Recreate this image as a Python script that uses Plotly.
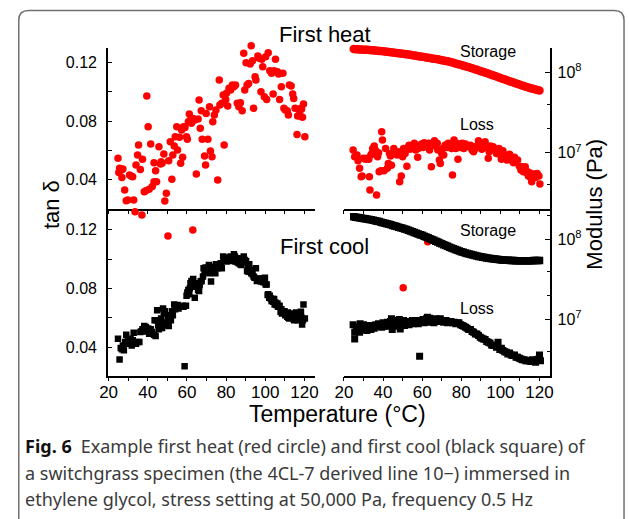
import plotly.graph_objects as go

W, H = 629, 519

# ---------------- data ----------------
# First heat, tan delta (red circles)
heat_tan_T = [24.8, 25.6, 25.2, 26.5, 27.3, 26.8, 28.2, 29.0, 29.8, 30.7, 31.5, 32.3, 32.8, 33.5, 34.0, 34.8,
              35.3, 36.2, 37.0, 37.3, 38.2, 39.0, 39.5, 40.2, 40.7, 41.5, 42.3, 43.2, 44.0, 44.5, 43.2, 45.7,
              46.5, 46.8, 47.3, 48.2, 48.7, 49.5, 50.7, 51.5, 52.3, 52.8, 53.5, 54.0, 54.8, 55.2, 56.2, 56.8,
              57.3, 57.8, 58.2, 59.0, 59.8, 60.2, 60.7, 61.2, 61.8, 62.3, 63.2, 64.0, 64.8, 65.7, 66.2, 66.8,
              67.3, 67.8, 69.0, 69.5, 69.8, 70.7, 71.5, 72.0, 72.8, 73.2, 74.0, 74.8, 75.7, 76.5, 76.8, 77.8,
              78.5, 79.0, 79.8, 80.2, 80.8, 81.5, 82.3, 83.2, 84.0, 84.8, 85.7, 86.5, 87.3, 88.2, 89.0, 89.5,
              90.2, 90.7, 91.5, 92.3, 92.8, 93.5, 94.0, 94.8, 95.2, 96.2, 96.8, 97.8, 98.2, 98.7, 99.5, 100.2,
              100.7, 101.5, 102.3, 103.2, 104.0, 104.5, 105.2, 106.2, 106.8, 107.3, 108.2, 109.0, 109.5, 110.2,
              111.2, 111.8, 112.3, 113.2, 114.0, 114.5, 115.2, 116.2, 116.5, 117.3, 117.8, 118.5, 119.0, 119.5,
              120.2, 118.2, 50.3, 63.0]
heat_tan = [0.0544, 0.0475, 0.0446, 0.0464, 0.0471, 0.0412, 0.0327, 0.0253, 0.0258, 0.0430, 0.0423, 0.0418,
            0.0258, 0.0178, 0.0498, 0.0566, 0.0635, 0.0468, 0.0155, 0.0537, 0.0315, 0.0322, 0.0971, 0.0761,
            0.0331, 0.0642, 0.0350, 0.0384, 0.0459, 0.0384, 0.0514, 0.0623, 0.0505, 0.0521, 0.0510, 0.0573,
            0.0251, 0.0304, 0.0528, 0.0658, 0.0400, 0.0566, 0.0628, 0.0692, 0.0761, 0.0601, 0.0688, 0.0510,
            0.0738, 0.0551, 0.0761, 0.0756, 0.0692, 0.0674, 0.0795, 0.0848, 0.0807, 0.0784, 0.0818, 0.0807,
            0.0437, 0.0814, 0.0944, 0.0750, 0.0871, 0.0674, 0.0560, 0.0498, 0.0852, 0.0674, 0.0898, 0.0594,
            0.0555, 0.0795, 0.0841, 0.0875, 0.0395, 0.1081, 0.0910, 0.0921, 0.0978, 0.0635, 0.0948, 0.0990,
            0.0903, 0.1024, 0.1013, 0.1047, 0.1035, 0.1047, 0.0921, 0.0898, 0.0926, 0.0871, 0.1264, 0.1013,
            0.1200, 0.1047, 0.1058, 0.1191, 0.1317, 0.1214, 0.0887, 0.1104, 0.1081, 0.1246, 0.1230, 0.1001,
            0.1223, 0.1172, 0.0967, 0.1241, 0.0948, 0.1269, 0.1145, 0.1127, 0.0985, 0.1145, 0.1223, 0.1138,
            0.1122, 0.0948, 0.1035, 0.1127, 0.0887, 0.0875, 0.0871, 0.0841, 0.1047, 0.1040, 0.0985, 0.0955,
            0.0887, 0.0708, 0.0834, 0.0875, 0.0834, 0.0880, 0.0825, 0.0916, 0.0692, 0.0887, 0.0011, 0.0052]

# First cool, tan delta (black squares)
cool_tan_T = [24.8, 25.6, 26.2, 26.8, 27.3, 27.8, 28.5, 29.0, 29.8, 30.2, 31.2, 31.8, 32.3, 32.8, 33.5, 34.0,
              34.8, 35.7, 36.2, 36.8, 37.3, 38.2, 38.5, 39.0, 39.8, 40.2, 40.7, 41.5, 42.3, 43.2, 43.5, 44.0,
              44.5, 44.8, 45.3, 45.7, 46.5, 46.8, 47.3, 47.8, 48.2, 48.7, 49.0, 49.5, 50.2, 50.7, 51.5, 51.8,
              52.3, 52.8, 53.5, 54.0, 54.5, 55.2, 55.7, 56.2, 56.8, 57.8, 58.2, 58.8, 59.5, 59.8, 60.2, 60.7,
              61.2, 61.5, 61.8, 62.3, 63.2, 63.7, 64.0, 64.5, 65.2, 65.7, 66.2, 66.5, 67.0, 67.5, 68.2, 68.5,
              69.0, 69.5, 70.2, 70.7, 71.2, 71.5, 71.8, 72.3, 72.8, 73.5, 74.0, 74.5, 74.8, 75.2, 75.7, 76.2,
              76.5, 77.3, 77.8, 78.5, 79.0, 79.5, 80.2, 80.7, 81.2, 81.8, 82.3, 82.8, 83.5, 84.0, 84.5, 84.8,
              85.3, 85.8, 86.5, 86.8, 87.3, 87.8, 88.5, 89.0, 89.5, 90.2, 90.7, 91.2, 91.5, 91.8, 92.3, 92.8,
              93.5, 94.0, 94.5, 95.2, 95.7, 96.2, 96.8, 97.3, 97.8, 98.5, 99.0, 99.5, 99.8, 100.2, 100.7, 101.2,
              101.5, 102.0, 102.3, 102.8, 103.2, 103.7, 104.0, 104.5, 104.8, 105.2, 105.7, 106.2, 106.5, 107.3,
              107.8, 108.2, 108.5, 109.0, 109.5, 109.8, 110.2, 110.7, 111.2, 111.5, 111.8, 112.3, 112.8, 113.2,
              114.0, 114.5, 114.8, 115.3, 115.7, 116.2, 116.5, 116.8, 117.3, 117.8, 118.2, 118.5, 118.8, 119.2,
              119.5, 120.2]
cool_tan = [0.0457, 0.0315, 0.0393, 0.0384, 0.0411, 0.0377, 0.0434, 0.0484, 0.0446, 0.0423, 0.0457, 0.0411,
            0.0446, 0.0498, 0.0430, 0.0423, 0.0434, 0.0434, 0.0503, 0.0507, 0.0521, 0.0544, 0.0507, 0.0537,
            0.0507, 0.0526, 0.0491, 0.0521, 0.0503, 0.0484, 0.0583, 0.0475, 0.0583, 0.0651, 0.0549, 0.0521,
            0.0560, 0.0594, 0.0530, 0.0663, 0.0628, 0.0644, 0.0549, 0.0567, 0.0606, 0.0544, 0.0617, 0.0583,
            0.0644, 0.0617, 0.0690, 0.0658, 0.0681, 0.0686, 0.0663, 0.0674, 0.0674, 0.0681, 0.0674, 0.0269,
            0.0681, 0.0750, 0.0772, 0.0788, 0.0759, 0.0800, 0.0834, 0.0850, 0.0864, 0.0827, 0.0736, 0.0811,
            0.0834, 0.0788, 0.0782, 0.0823, 0.0846, 0.0850, 0.0880, 0.0937, 0.0914, 0.0942, 0.0932, 0.0914,
            0.0960, 0.0903, 0.0926, 0.0846, 0.0948, 0.0914, 0.0937, 0.0903, 0.0964, 0.0942, 0.0937, 0.0948,
            0.0964, 0.0971, 0.0937, 0.1017, 0.0994, 0.1010, 0.0983, 0.1001, 0.1006, 0.0994, 0.1017, 0.0987,
            0.1010, 0.1033, 0.1017, 0.0983, 0.1006, 0.0978, 0.0971, 0.1006, 0.0964, 0.0960, 0.0978, 0.1017,
            0.0994, 0.0987, 0.0919, 0.0948, 0.0914, 0.0964, 0.0926, 0.0903, 0.0896, 0.0880, 0.0873, 0.0937,
            0.0850, 0.0864, 0.0868, 0.0857, 0.0846, 0.0868, 0.0841, 0.0857, 0.0873, 0.0827, 0.0827, 0.0754,
            0.0759, 0.0736, 0.0750, 0.0731, 0.0713, 0.0727, 0.0708, 0.0727, 0.0690, 0.0704, 0.0686, 0.0697,
            0.0674, 0.0681, 0.0640, 0.0658, 0.0628, 0.0644, 0.0635, 0.0644, 0.0617, 0.0622, 0.0606, 0.0635,
            0.0599, 0.0594, 0.0628, 0.0606, 0.0612, 0.0590, 0.0583, 0.0606, 0.0635, 0.0617, 0.0583, 0.0606,
            0.0594, 0.0622, 0.0640, 0.0599, 0.0553, 0.0583, 0.0690, 0.0594]

# Storage modulus (MPa), sampled every degree from 25 to 120 degC
storage_T = [25, 26, 27, 28, 29, 30, 31, 32, 33, 34, 35, 36, 37, 38, 39, 40, 41, 42, 43, 44, 45, 46, 47, 48,
             49, 50, 51, 52, 53, 54, 55, 56, 57, 58, 59, 60, 61, 62, 63, 64, 65, 66, 67, 68, 69, 70, 71, 72,
             73, 74, 75, 76, 77, 78, 79, 80, 81, 82, 83, 84, 85, 86, 87, 88, 89, 90, 91, 92, 93, 94, 95, 96,
             97, 98, 99, 100, 101, 102, 103, 104, 105, 106, 107, 108, 109, 110, 111, 112, 113, 114, 115, 116,
             117, 118, 119, 120]
heat_storage = [195.0, 194.1, 193.6, 192.8, 192.3, 191.4, 190.5, 190.1, 189.2, 188.4, 187.5, 186.6, 185.8,
                184.5, 183.7, 182.4, 181.6, 180.3, 179.1, 177.8, 176.6, 175.4, 174.2, 173.0, 171.8, 170.6,
                169.4, 167.9, 166.3, 164.8, 163.3, 161.8, 160.3, 158.9, 157.4, 156.0, 154.5, 153.1, 151.7,
                150.3, 148.9, 147.6, 146.2, 144.9, 143.2, 141.6, 140.0, 138.4, 136.8, 134.9, 133.0, 131.2,
                129.1, 127.1, 125.0, 123.0, 121.1, 119.1, 117.2, 115.3, 113.2, 111.2, 109.1, 107.2, 105.2,
                103.3, 101.4, 99.5, 97.7, 95.9, 94.0, 92.0, 90.4, 88.5, 86.7, 85.1, 83.4, 81.8, 80.2, 78.7,
                77.1, 75.7, 74.1, 72.8, 71.3, 70.0, 68.7, 67.5, 66.2, 65.0, 64.0, 63.0, 61.9, 61.1, 60.3, 59.4]
cool_storage = [189.7, 187.9, 186.2, 184.5, 182.8, 181.1, 179.5, 177.8, 176.2, 174.2, 172.6, 170.2, 167.9,
                165.6, 162.9, 160.7, 158.1, 156.0, 153.5, 151.0, 148.6, 146.2, 143.9, 141.3, 139.0, 136.8,
                134.3, 131.8, 129.1, 126.5, 123.9, 121.3, 118.9, 116.4, 114.0, 111.7, 109.1, 106.7, 104.0,
                101.6, 99.3, 96.8, 94.6, 92.3, 89.9, 87.7, 85.5, 83.4, 81.5, 79.4, 77.6, 75.9, 74.3, 72.8, 71.3,
                70.0, 68.7, 67.5, 66.4, 65.3, 64.4, 63.5, 62.7, 61.8, 61.1, 60.4, 59.7, 59.0, 58.5, 57.9, 57.4,
                56.9, 56.5, 56.1, 55.7, 55.3, 55.1, 54.8, 54.6, 54.5, 54.3, 54.2, 54.1, 54.0, 54.0, 53.8, 53.8,
                53.8, 53.8, 53.8, 54.0, 54.0, 54.1, 54.1, 54.2, 54.3]

# Loss modulus (MPa)
heat_loss_T = [24.7, 25.5, 26.7, 27.2, 28.0, 28.8, 29.3, 30.0, 31.0, 31.7, 32.7, 33.0, 33.3, 33.8, 34.3, 34.7,
               35.5, 36.0, 36.7, 37.2, 37.7, 38.0, 38.8, 39.3, 39.7, 40.5, 41.3, 42.2, 42.7, 43.3, 43.8, 44.3,
               45.0, 45.5, 46.3, 47.2, 48.0, 48.5, 49.3, 50.0, 50.5, 51.3, 52.2, 52.7, 53.3, 53.8, 54.7, 55.5,
               56.0, 56.7, 57.7, 58.0, 58.8, 59.7, 60.5, 61.0, 61.7, 62.7, 63.3, 63.8, 64.7, 65.5, 66.3, 66.8,
               67.7, 68.0, 68.8, 69.3, 70.0, 70.5, 71.0, 71.7, 72.7, 73.3, 74.3, 75.0, 75.5, 76.3, 76.7, 77.2,
               77.7, 78.3, 78.8, 79.7, 80.5, 81.3, 82.2, 83.0, 83.8, 84.7, 85.5, 86.3, 87.2, 88.0, 88.8, 89.3,
               90.0, 90.5, 91.3, 92.2, 93.0, 93.8, 94.3, 95.0, 95.5, 96.3, 97.2, 98.0, 98.8, 99.3, 100.0, 100.5,
               101.3, 102.2, 102.7, 103.3, 103.8, 104.7, 105.5, 106.0, 106.7, 107.2, 108.0, 108.8, 109.7, 110.5,
               111.0, 111.7, 112.7, 113.3, 113.8, 114.3, 115.0, 115.5, 116.0, 116.7, 117.2, 118.0, 118.8, 119.7,
               120.2, 50.3, 62.8]
heat_loss = [10.8, 8.9, 9.35, 7.94, 6.4, 5.02, 5.13, 8.5, 8.26, 8.5, 8.26, 5.02, 3.43, 9.35, 9.8, 11.3, 12.1,
             10.8, 2.97, 8.9, 10.0, 5.8, 5.97, 18.2, 14.4, 5.97, 11.3, 6.4, 7.36, 9.8, 9.1, 7.0, 9.8, 11.3, 10.0,
             9.35, 10.3, 4.36, 5.13, 8.9, 11.3, 9.8, 6.8, 11.6, 12.4, 11.0, 12.1, 11.6, 13.1, 10.8, 8.75, 11.3,
             12.1, 12.8, 11.6, 13.3, 12.4, 12.1, 13.1, 10.8, 6.7, 13.1, 14.1, 12.1, 13.1, 10.8, 8.1, 7.36, 9.8,
             11.3, 9.35, 12.4, 11.6, 13.1, 12.1, 11.3, 5.27, 14.4, 12.4, 11.3, 13.1, 8.26, 12.1, 11.6, 13.1,
             11.3, 12.8, 12.1, 11.9, 12.4, 10.8, 10.3, 11.3, 12.1, 14.1, 12.8, 11.9, 11.0, 13.1, 13.7, 11.6,
             8.5, 10.3, 12.1, 11.3, 11.9, 10.8, 9.8, 10.0, 11.3, 9.35, 8.26, 10.6, 9.35, 8.5, 8.1, 9.1, 9.6,
             8.9, 7.94, 7.5, 8.75, 7.73, 8.1, 6.8, 6.1, 6.7, 5.8, 6.7, 5.97, 5.53, 5.13, 5.64, 4.93, 4.36,
             5.02, 5.42, 4.93, 5.53, 5.13, 4.07, 0.209, 0.782]
cool_loss_T = [24.7, 25.5, 25.5, 26.3, 27.2, 28.0, 28.3, 29.3, 30.0, 31.0, 31.7, 32.7, 33.3, 33.8, 34.7, 35.5,
               36.3, 37.2, 37.7, 38.3, 39.3, 40.0, 40.5, 41.3, 42.2, 43.0, 43.8, 44.3, 44.7, 45.5, 46.0, 46.7,
               47.2, 47.7, 48.3, 48.8, 49.3, 50.0, 50.5, 51.0, 51.3, 52.2, 52.7, 53.3, 53.8, 54.3, 55.0, 55.5,
               56.0, 56.7, 57.2, 58.0, 58.7, 59.3, 60.0, 60.5, 61.0, 61.7, 62.2, 62.7, 63.3, 63.8, 64.3, 65.0,
               65.5, 66.0, 66.7, 67.2, 67.7, 68.3, 68.8, 69.3, 70.0, 70.5, 71.0, 71.7, 72.2, 73.0, 73.8, 74.7,
               75.5, 76.3, 77.2, 78.0, 78.8, 79.7, 80.5, 81.3, 82.2, 83.0, 83.8, 84.7, 85.5, 86.3, 87.2, 88.0,
               88.8, 89.7, 90.5, 91.3, 92.2, 93.0, 93.8, 94.7, 95.5, 96.3, 97.2, 98.0, 98.8, 99.7, 100.5, 101.3,
               102.2, 103.0, 103.8, 104.7, 105.5, 106.3, 107.2, 108.0, 108.8, 109.7, 110.5, 111.3, 112.2, 113.0,
               113.8, 114.7, 115.5, 116.3, 117.2, 118.0, 118.8, 119.7, 120.0, 120.5]
cool_loss = [8.58, 5.73, 6.95, 7.50, 8.02, 6.95, 8.83, 7.50, 8.58, 7.64, 7.29, 8.02, 8.41, 7.50, 8.26, 7.80,
             8.58, 8.26, 8.83, 8.41, 8.02, 9.09, 8.26, 8.83, 9.27, 8.26, 9.44, 10.2, 7.50, 9.09, 9.72, 8.58,
             9.27, 8.26, 10.0, 7.64, 8.83, 9.27, 9.72, 8.41, 8.83, 9.27, 9.44, 8.58, 9.44, 9.09, 9.72, 8.83,
             9.27, 9.72, 9.09, 8.83, 3.48, 9.44, 9.72, 10.0, 9.09, 9.44, 10.2, 10.7, 9.72, 10.4, 9.27, 10.0,
             9.72, 9.09, 9.72, 10.2, 9.44, 9.72, 10.0, 10.2, 9.72, 9.72, 9.27, 9.44, 9.72, 9.09, 9.27, 9.44,
             9.09, 9.27, 8.83, 9.09, 9.09, 8.58, 8.41, 8.26, 8.02, 7.80, 7.50, 7.50, 7.08, 6.95, 6.62, 6.62,
             6.31, 6.01, 5.85, 5.73, 5.62, 5.31, 5.21, 5.11, 4.82, 4.73, 4.73, 4.51, 5.21, 4.22, 4.38, 4.10,
             3.98, 3.91, 3.72, 3.83, 3.62, 3.55, 3.62, 3.38, 3.38, 3.29, 3.22, 3.16, 3.16, 3.07, 3.07, 3.07,
             2.99, 3.16, 3.07, 2.93, 3.16, 3.22, 3.62, 3.07]

tan_ticks = [0.04, 0.08, 0.12]
tan_ticktext = ["0.04", "0.08", "0.12"]
tan_minor = [0.02, 0.06, 0.10]
mod_ticks = [1e7, 1e8]
mod_ticktext = ["10<sup>7</sup>", "10<sup>8</sup>"]
mod_minor = [2e6, 4e6, 2e7, 4e7, 2e8]
x_ticks = [20, 40, 60, 80, 100, 120]

# ---------------- geometry helpers (pixel layout) ----------------
def fx(px):
    return px / W


def fy(py):
    return 1 - py / H


def lin_range(v1, p1, v2, p2, pa, pb):
    s = (v2 - v1) / (p2 - p1)
    return [v1 + (pa - p1) * s, v1 + (pb - p1) * s]


MPa = 1e6
L_X = (101, 312)
R_X = (342, 552)
TOP_Y = (48, 208.7)
BOT_Y = (209, 375.7)
EXT_Y = (20, 300)

xr_left = lin_range(20, 101.7, 120, 301.7, L_X[0], L_X[1])
xr_right = lin_range(20, 342, 120, 541.7, R_X[0], R_X[1])
yr_tl = lin_range(0.12, 62.7, 0.04, 179.3, TOP_Y[1], TOP_Y[0])
yr_tl_ext = lin_range(0.12, 62.7, 0.04, 179.3, EXT_Y[1], EXT_Y[0])
yr_bl = lin_range(0.12, 229.7, 0.04, 347.0, BOT_Y[1], BOT_Y[0])
yr_tr = lin_range(8, 72.3, 7, 152.7, TOP_Y[1], TOP_Y[0])
yr_tr_ext = lin_range(8, 72.3, 7, 152.7, EXT_Y[1], EXT_Y[0])
yr_br = lin_range(8, 239.2, 7, 319.5, BOT_Y[1], BOT_Y[0])

RED = "#ff0000"
AX_FONT = dict(family="Arial, Liberation Sans, sans-serif", size=16, color="black")
X_FONT = dict(family="Arial, Liberation Sans, sans-serif", size=17, color="black")

fig = go.Figure()

# first cool
fig.add_trace(go.Scatter(x=cool_tan_T, y=cool_tan, mode="markers", xaxis="x3", yaxis="y3",
                         marker=dict(symbol="square", size=6.5, color="black"), showlegend=False))
fig.add_trace(go.Scatter(x=storage_T, y=[v * MPa for v in cool_storage], mode="markers", xaxis="x4", yaxis="y4",
                         marker=dict(symbol="square", size=7.5, color="black"), showlegend=False))
fig.add_trace(go.Scatter(x=cool_loss_T, y=[v * MPa for v in cool_loss], mode="markers", xaxis="x4", yaxis="y4",
                         marker=dict(symbol="square", size=7, color="black"), showlegend=False))
# first heat (on extended overlay axes with the same scale as the top panels)
fig.add_trace(go.Scatter(x=heat_tan_T, y=heat_tan, mode="markers", xaxis="x", yaxis="y5",
                         marker=dict(symbol="circle", size=7.5, color=RED), showlegend=False))
fig.add_trace(go.Scatter(x=storage_T, y=[v * MPa for v in heat_storage], mode="markers", xaxis="x2", yaxis="y6",
                         marker=dict(symbol="circle", size=8.5, color=RED), showlegend=False))
fig.add_trace(go.Scatter(x=heat_loss_T, y=[v * MPa for v in heat_loss], mode="markers", xaxis="x2", yaxis="y6",
                         marker=dict(symbol="circle", size=7.5, color=RED), showlegend=False))
# empty traces so that the visible top-panel axes exist
fig.add_trace(go.Scatter(x=[None], y=[None], xaxis="x", yaxis="y", showlegend=False))
fig.add_trace(go.Scatter(x=[None], y=[None], xaxis="x2", yaxis="y2", showlegend=False))

xcommon = dict(showline=True, linecolor="black", linewidth=1.5, ticks="outside", ticklen=4,
               tickwidth=1.3, tickcolor="black", tickvals=x_ticks, showgrid=False, zeroline=False,
               tickfont=X_FONT, ticklabelstandoff=-4,
               minor=dict(dtick=10, tick0=0, ticks="outside", ticklen=4,
                          tickwidth=1.3, tickcolor="black", showgrid=False))
ytan = dict(showline=True, linecolor="black", linewidth=1.5, ticks="inside", ticklen=4, tickwidth=1.3,
            tickcolor="black", tickvals=tan_ticks, ticktext=tan_ticktext,
            showgrid=False, zeroline=False, tickfont=AX_FONT, ticklabelstandoff=6,
            minor=dict(tickmode="array", tickvals=tan_minor, ticks="inside", ticklen=4,
                       tickwidth=1.3, tickcolor="black", showgrid=False))
ymod = dict(type="log", side="right", showline=True, linecolor="black", linewidth=1.5, ticks="inside",
            ticklen=5, tickwidth=1.3, tickcolor="black", tickvals=mod_ticks, ticktext=mod_ticktext,
            showgrid=False, zeroline=False, tickfont=AX_FONT, ticklabelstandoff=3,
            minor=dict(tickmode="array", tickvals=mod_minor, ticks="inside", ticklen=3,
                       tickwidth=1.2, tickcolor="black", showgrid=False))

fig.update_layout(
    width=W, height=H, margin=dict(l=0, r=0, t=0, b=0),
    paper_bgcolor="white", plot_bgcolor="rgba(0,0,0,0)", showlegend=False,
    xaxis=dict(domain=[fx(L_X[0]), fx(L_X[1])], range=xr_left, anchor="y", showticklabels=False, **xcommon),
    xaxis2=dict(domain=[fx(R_X[0]), fx(R_X[1])], range=xr_right, anchor="y2", showticklabels=False, **xcommon),
    xaxis3=dict(domain=[fx(L_X[0]), fx(L_X[1])], range=xr_left, anchor="y3", **xcommon),
    xaxis4=dict(domain=[fx(R_X[0]), fx(R_X[1])], range=xr_right, anchor="y4", **xcommon),
    yaxis=dict(domain=[fy(TOP_Y[1]), fy(TOP_Y[0])], range=yr_tl, anchor="x", **ytan),
    yaxis3=dict(domain=[fy(BOT_Y[1]), fy(BOT_Y[0])], range=yr_bl, anchor="x3", **ytan),
    yaxis2=dict(domain=[fy(TOP_Y[1]), fy(TOP_Y[0])], range=yr_tr, anchor="x2", **ymod),
    yaxis4=dict(domain=[fy(BOT_Y[1]), fy(BOT_Y[0])], range=yr_br, anchor="x4", **ymod),
    yaxis5=dict(domain=[fy(EXT_Y[1]), fy(EXT_Y[0])], range=yr_tl_ext, anchor="x", visible=False),
    yaxis6=dict(domain=[fy(EXT_Y[1]), fy(EXT_Y[0])], range=yr_tr_ext, anchor="x2", type="log", visible=False),
)

TXT = dict(family="Arial, Liberation Sans, sans-serif", color="black")
anns = [
    dict(text="First heat", x=fx(323), y=fy(35), size=22),
    dict(text="First cool", x=fx(322), y=fy(246), size=22),
    dict(text="Storage", x=fx(489.5), y=fy(51.5), size=16),
    dict(text="Loss", x=fx(478), y=fy(125), size=16),
    dict(text="Storage", x=fx(489.5), y=fy(230), size=16),
    dict(text="Loss", x=fx(478), y=fy(308), size=16),
    dict(text="Temperature (°C)", x=fx(335), y=fy(414), size=23),
]
for a in anns:
    fig.add_annotation(text=a["text"], x=a["x"], y=a["y"], xref="paper", yref="paper", showarrow=False,
                       xanchor="center", yanchor="middle", font=dict(size=a["size"], **TXT))
fig.add_annotation(text="tan δ", x=fx(43), y=fy(205), xref="paper", yref="paper", showarrow=False,
                   textangle=-90, xanchor="center", yanchor="middle", font=dict(size=22, **TXT))
fig.add_annotation(text="Modulus (Pa)", x=fx(597), y=fy(204), xref="paper", yref="paper", showarrow=False,
                   textangle=-90, xanchor="center", yanchor="middle", font=dict(size=22, **TXT))

CAP = dict(family="Noto Sans, Open Sans, sans-serif", size=18, color="#3a3a3a")
captions = [
    "<b style='color:#111'>Fig. 6</b>\u2002Example first heat (red circle) and first cool (black square) of",
    "a switchgrass specimen (the 4CL-7 derived line 10\u2212) immersed in",
    "ethylene glycol, stress setting at 50,000 Pa, frequency 0.5 Hz",
]
for txt, py in zip(captions, [446, 473, 499]):
    fig.add_annotation(text=txt, x=fx(14), y=fy(py), xref="paper", yref="paper", showarrow=False,
                       xanchor="left", yanchor="middle", align="left", font=CAP)

# rounded frame
def P(px, py):
    return f"{fx(px):.5f},{fy(py):.5f}"

frame = (f"M {P(10, 525)} L {P(10, 20)} Q {P(10, 10.5)} {P(20, 10.5)} L {P(618, 10.5)} "
         f"Q {P(628, 10.5)} {P(628, 20)} L {P(628, 525)}")
fig.add_shape(type="path", path=frame, xref="paper", yref="paper", line=dict(color="#707070", width=1.5))

fig.write_html("out.html")
